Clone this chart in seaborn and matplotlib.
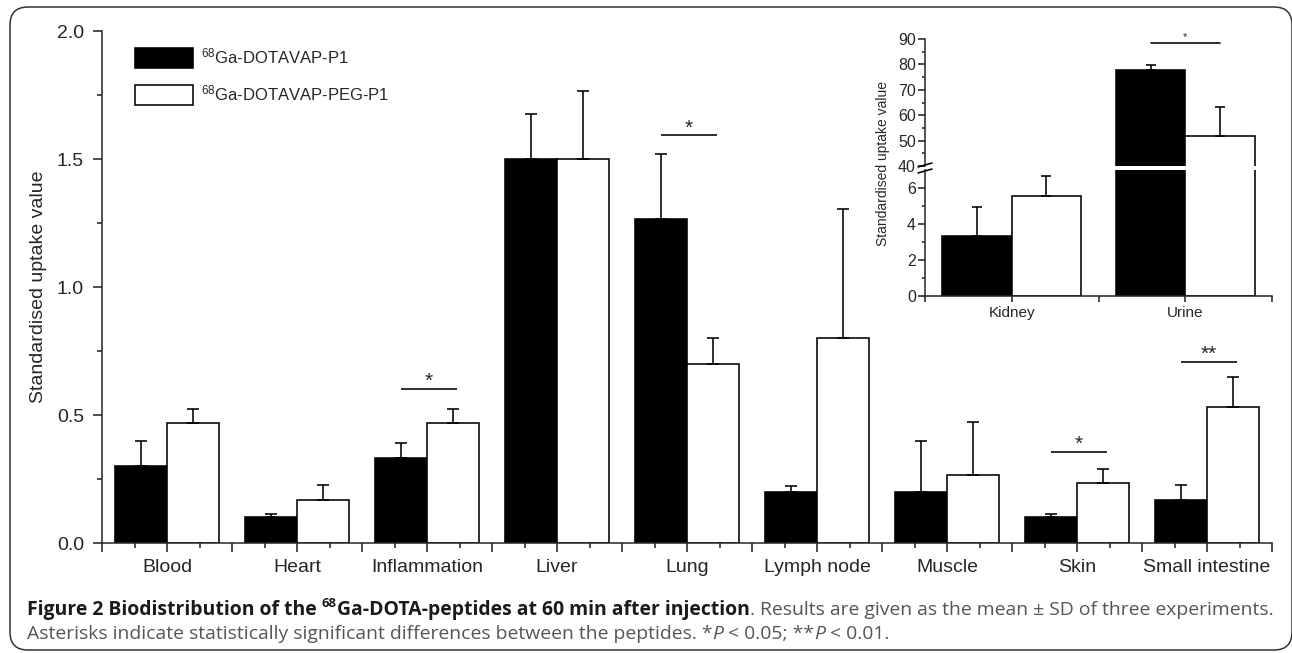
import numpy as np
import pandas as pd
import matplotlib
matplotlib.use("Agg")
import matplotlib.pyplot as plt
import seaborn as sns
from matplotlib.patches import Patch, FancyBboxPatch
from matplotlib.lines import Line2D
from matplotlib.ticker import MultipleLocator, FormatStrFormatter
from matplotlib.transforms import IdentityTransform

# ---------------- data ----------------
organs = ["Blood", "Heart", "Inflammation", "Liver", "Lung", "Lymph node",
          "Muscle", "Skin", "Small intestine"]
peptides = [r"$\mathregular{^{68}}$Ga-DOTAVAP-P1", r"$\mathregular{^{68}}$Ga-DOTAVAP-PEG-P1"]
p1_mean = [0.30, 0.10, 0.333, 1.50, 1.267, 0.20, 0.20, 0.10, 0.167]
p1_sd = [0.10, 0.015, 0.057, 0.176, 0.253, 0.023, 0.20, 0.015, 0.058]
peg_mean = [0.467, 0.167, 0.467, 1.50, 0.70, 0.80, 0.267, 0.233, 0.533]
peg_sd = [0.058, 0.058, 0.058, 0.267, 0.10, 0.506, 0.207, 0.057, 0.117]

sig_organs = ["Inflammation", "Lung", "Skin", "Small intestine"]
sig_level = [0.60, 1.592, 0.357, 0.707]
sig_text = ["*", "*", "*", "**"]

inset_organs = ["Kidney", "Urine"]
inset_p1_mean = [3.33, 77.8]
inset_p1_sd = [1.63, 2.0]
inset_peg_mean = [5.56, 51.8]
inset_peg_sd = [1.12, 11.3]
inset_sig_organ = "Urine"
inset_sig_level = 88.3

caption_line1 = [
    ("Figure 2 Biodistribution of the", "bold", "normal", "k", False),
    (" ", "bold", "normal", "k", False),
    ("68", "bold", "normal", "k", True),
    ("Ga-DOTA-peptides at 60 min after injection", "bold", "normal", "k", False),
    (". Results are given as the mean \u00b1 SD of three experiments.", "normal", "normal", "g", False),
]
caption_line2 = [
    ("Asterisks indicate statistically significant differences between the peptides. *", "normal", "normal", "g", False),
    ("P", "normal", "italic", "g", False),
    (" ", "normal", "normal", "g", False),
    ("< 0.05; **", "normal", "normal", "g", False),
    ("P", "normal", "italic", "g", False),
    (" ", "normal", "normal", "g", False),
    ("< 0.01.", "normal", "normal", "g", False),
]

# ---------------- style ----------------
sns.set_style("ticks")
plt.rcParams["font.family"] = ["Liberation Sans", "DejaVu Sans"]
plt.rcParams["mathtext.fontset"] = "custom"
plt.rcParams["mathtext.rm"] = "Liberation Sans"
plt.rcParams["axes.linewidth"] = 1.1

W, H = 1292, 653
fig = plt.figure(figsize=(W / 100, H / 100), dpi=100)
fig.patch.set_facecolor("white")

LW = 1.15
EDGE = "black"

def bars(ax, names, m1, m2):
    df = pd.DataFrame({
        "organ": list(names) * 2,
        "peptide": [peptides[0]] * len(names) + [peptides[1]] * len(names),
        "mean": list(m1) + list(m2),
    })
    sns.barplot(data=df, x="organ", y="mean", hue="peptide",
                palette=["black", "white"], saturation=1, edgecolor=EDGE,
                linewidth=LW, errorbar=None, legend=False, width=0.8, ax=ax)

def errbars(ax, sds_list, cap=4.5):
    for cont, sds in zip(ax.containers, sds_list):
        for rect, sd in zip(cont, sds):
            xc = rect.get_x() + rect.get_width() / 2
            h = rect.get_height()
            ax.errorbar([xc], [h], yerr=[[0], [sd]], fmt="none", ecolor="black",
                        elinewidth=LW, capsize=cap, capthick=LW, zorder=3)

# ---------------- main axes ----------------
ax = fig.add_axes([102 / W, 1 - 543 / H, 1170 / W, 512 / H])
ax.set_facecolor("none")
bars(ax, organs, p1_mean, peg_mean)
errbars(ax, [p1_sd, peg_sd])
ax.set_xlim(-0.5, len(organs) - 0.5)
ax.set_ylim(0, 2.0)
ax.yaxis.set_major_locator(MultipleLocator(0.5))
ax.yaxis.set_minor_locator(MultipleLocator(0.25))
ax.yaxis.set_major_formatter(FormatStrFormatter("%.1f"))
xt = np.arange(-0.5, len(organs), 0.5)
ax.set_xticks(xt)
ax.set_xticklabels([organs[int(v)] if float(v).is_integer() else "" for v in xt])
ax.set_xticks(np.arange(-0.25, len(organs) - 0.5, 0.5), minor=True)
ax.tick_params(axis="both", which="major", direction="out", length=6.5, width=LW)
ax.tick_params(axis="both", which="minor", direction="out", length=3.5, width=LW)
ax.tick_params(axis="x", which="major", labelsize=14, pad=5)
ax.tick_params(axis="y", which="major", labelsize=14, pad=6.5)
ax.set_xlabel("")
ax.set_ylabel("Standardised uptake value", fontsize=14, labelpad=7)
sns.despine(ax=ax)

for org, lev, s in zip(sig_organs, sig_level, sig_text):
    i = organs.index(org)
    ax.plot([i - 0.2, i + 0.23], [lev, lev], color="black", lw=LW, solid_capstyle="butt")
    ax.annotate(s, xy=(i + 0.015, lev), xytext=(0, 1.5), textcoords="offset points",
                ha="center", va="baseline", fontsize=15)

handles = [Patch(facecolor="black", edgecolor="black", linewidth=LW),
           Patch(facecolor="white", edgecolor="black", linewidth=LW)]
ax.legend(handles=handles, labels=peptides, loc="upper left",
          bbox_to_anchor=(135 / W, 1 - 47 / H), bbox_transform=fig.transFigure,
          frameon=False, fontsize=12, handlelength=3.5, handleheight=1.45,
          labelspacing=0.9, handletextpad=0.45, borderpad=0, borderaxespad=0)

# ---------------- inset (broken axis) ----------------
ix0, ix1 = 925, 1272
ax_lo = fig.add_axes([ix0 / W, 1 - 296 / H, (ix1 - ix0) / W, 126 / H])
ax_up = fig.add_axes([ix0 / W, 1 - 166 / H, (ix1 - ix0) / W, 127 / H])
for a in (ax_lo, ax_up):
    a.set_facecolor("none")
    bars(a, inset_organs, inset_p1_mean, inset_peg_mean)
    errbars(a, [inset_p1_sd, inset_peg_sd], cap=3.5)
    a.set_xlim(-0.5, 1.5)
    a.set_xlabel("")
    a.set_ylabel("")
    a.tick_params(axis="both", which="major", direction="out", length=5, width=LW,
                  labelsize=11.5, pad=1.5)
    a.tick_params(axis="both", which="minor", direction="out", length=2.5, width=LW)
ax_lo.set_ylim(0, 7)
ax_lo.set_yticks([0, 2, 4, 6])
ax_lo.set_yticks([1, 3, 5], minor=True)
ixt = np.arange(-0.5, 2, 0.5)
ax_lo.set_xticks(ixt)
ax_lo.set_xticklabels([inset_organs[int(v)] if float(v).is_integer() else "" for v in ixt])
ax_lo.tick_params(axis="x", which="major", labelsize=11, length=4, pad=3)
sns.despine(ax=ax_lo)
ax_up.set_ylim(40, 90)
ax_up.yaxis.set_major_locator(MultipleLocator(10))
ax_up.yaxis.set_minor_locator(MultipleLocator(5))
ax_up.set_xticks([])
sns.despine(ax=ax_up, bottom=True)

j = inset_organs.index(inset_sig_organ)
ax_up.plot([j - 0.2, j + 0.2], [inset_sig_level, inset_sig_level], color="black",
           lw=LW, clip_on=False)
ax_up.annotate("*", xy=(j, inset_sig_level), xytext=(0, 2.5), textcoords="offset points",
               ha="center", va="baseline", fontsize=8, annotation_clip=False)

fig.text(883 / W, 1 - 163 / H, "Standardised uptake value", rotation=90,
         ha="center", va="center", fontsize=10)

# break marks on the inset y axis
for yy in (165, 171):
    fig.add_artist(Line2D([(ix0 - 7) / W, (ix0 + 7) / W],
                          [1 - (yy + 2) / H, 1 - (yy - 2) / H],
                          color="black", lw=LW, transform=fig.transFigure))

# ---------------- caption ----------------
renderer = fig.canvas.get_renderer()
CAP_FONT = ["Open Sans", "DejaVu Sans"]
colors = {"k": "#1a1a1a", "g": "#555555"}

def text_w(s, **kw):
    t = fig.text(0, 0, s, **kw)
    w = t.get_window_extent(renderer).width
    t.remove()
    return w

def draw_runs(runs, x, y_base, size, keep=True):
    for s, weight, style, col, sup in runs:
        fs = size * 0.68 if sup else size
        kw = dict(fontsize=fs, fontweight=weight, fontstyle=style, family=CAP_FONT)
        if s == " ":
            x += text_w("a a", **kw) - text_w("aa", **kw)
            continue
        yy = y_base + (size * 0.42 * 100 / 72 if sup else 0)
        t = fig.text(x / W, yy / H, s, color=colors[col], ha="left", va="baseline", **kw)
        w = t.get_window_extent(renderer).width
        if not keep:
            t.remove()
        x += w
    return x

x_start = 27
trial = 10.0
end = draw_runs(caption_line1, x_start, H - 615, trial, keep=False)
cap_size = trial * (1277 - x_start) / (end - x_start)
draw_runs(caption_line1, x_start, H - 615, cap_size)
draw_runs(caption_line2, x_start, H - 639, cap_size)

# ---------------- rounded frame ----------------
frame = FancyBboxPatch((10, 3), 1282, 643, boxstyle="round,pad=0,rounding_size=18",
                       facecolor="none", edgecolor="#333333", linewidth=1.1,
                       transform=IdentityTransform())
fig.add_artist(frame)

fig.savefig("out.png", dpi=100)
